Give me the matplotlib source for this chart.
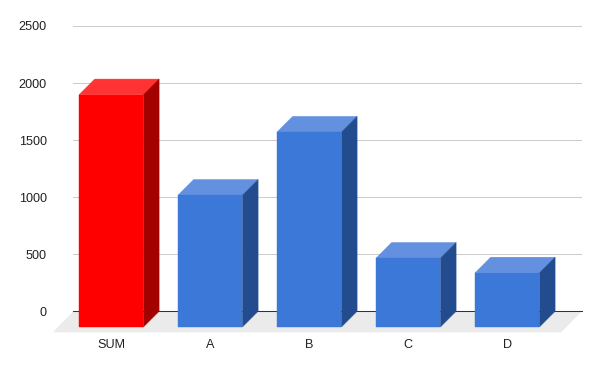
import matplotlib
matplotlib.use('Agg')
import matplotlib.pyplot as plt
from matplotlib.patches import Polygon

plt.rcParams['font.family'] = ['Liberation Sans', 'DejaVu Sans']

# Data
categories = ['SUM', 'A', 'B', 'C', 'D']
values = [2035, 1155, 1708, 603, 474]
y_ticks = [0, 500, 1000, 1500, 2000, 2500]

# colours per bar: front, top, side
red_colors = ('#ff0000', '#ff3333', '#a30000')
blue_colors = ('#3c78d8', '#6391e0', '#234c8e')
bar_colors = [red_colors, blue_colors, blue_colors, blue_colors, blue_colors]

# layout in pixels of the 600x371 image
W, H = 600, 371
left, right = 73.3, 581.7
top, base = 26.0, 311.3
spacing = 99.0
first_center = 111.2
bar_px = 64.4
depth_px = 15.7
floor_front_px = 21.0
floor_shift_px = 20.5

fig = plt.figure(figsize=(W / 100, H / 100), dpi=100)
ax = fig.add_axes([left / W, 1 - base / H, (right - left) / W, (base - top) / H])

# data scales
ax.set_ylim(0, 2500)
ax.set_xlim((left - first_center) / spacing, (right - first_center) / spacing)
px_y = 2500 / (base - top)
px_x = 1 / spacing
dx = depth_px * px_x
dy = depth_px * px_y
bar_w = bar_px * px_x

# floor
floor = Polygon([(ax.get_xlim()[0], 0), (ax.get_xlim()[1], 0),
                 (ax.get_xlim()[1] - floor_shift_px * px_x, -floor_front_px * px_y),
                 (ax.get_xlim()[0] - floor_shift_px * px_x, -floor_front_px * px_y)],
                facecolor='#ebebeb', edgecolor='none', zorder=1, clip_on=False)
ax.add_patch(floor)

for i, v in enumerate(values):
    front, top_c, side = bar_colors[i]
    x0 = i - bar_w / 2
    x1 = i + bar_w / 2
    y0 = -dy
    y1 = v - dy
    ax.bar(i, v, width=bar_w, bottom=y0, color=front, edgecolor=front, linewidth=0.3,
           zorder=4, clip_on=False)
    ax.add_patch(Polygon([(x0, y1), (x1, y1), (x1 + dx, v), (x0 + dx, v)],
                         facecolor=top_c, edgecolor=top_c, linewidth=0.3, zorder=3, clip_on=False))
    ax.add_patch(Polygon([(x1, y0), (x1 + dx, 0), (x1 + dx, v), (x1, y1)],
                         facecolor=side, edgecolor=side, linewidth=0.3, zorder=3, clip_on=False))

ax.set_yticks(y_ticks)
ax.set_xticks(range(len(categories)))
ax.set_xticklabels(categories)
ax.grid(axis='y', color='#cccccc', linewidth=0.75, zorder=0)
ax.set_axisbelow(True)
ax.axhline(0, color='#333333', linewidth=0.75, zorder=2, clip_on=False)
ax.tick_params(axis='both', length=0, labelsize=9.1, labelcolor='#222222')
ax.tick_params(axis='y', pad=19)
ax.tick_params(axis='x', pad=20)
for s in ax.spines.values():
    s.set_visible(False)

fig.savefig('out.png', dpi=100)
